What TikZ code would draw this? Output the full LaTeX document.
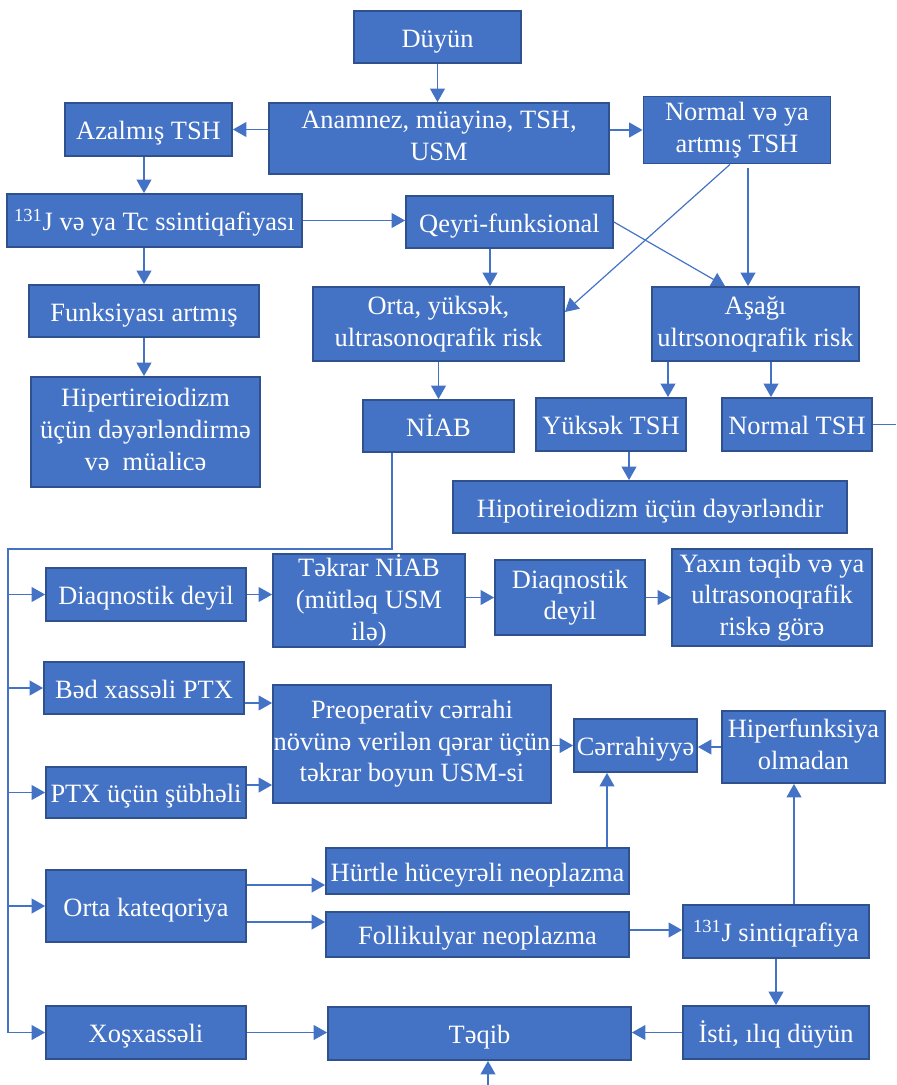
\documentclass[tikz,border=0pt]{standalone}
\usepackage{fontspec}
\setmainfont{Liberation Serif}
\usetikzlibrary{arrows.meta,calc}
\definecolor{boxblue}{HTML}{4472C4}
\definecolor{bdr}{HTML}{2F528F}
\definecolor{lnblue}{HTML}{4472C4}
\tikzset{
  box/.style={draw=bdr, fill=boxblue, text=white, line width=1.3pt, align=center, inner sep=0pt,
    font=\fontsize{18.8}{22.5}\selectfont,
    execute at begin node={\rule{0pt}{18.5pt}}, execute at end node={\rule[-4pt]{0pt}{0pt}}},
  sz/.style 2 args={minimum width=#1*0.025cm, minimum height=#2*0.025cm},
  ln/.style={draw=lnblue, line width=0.85pt},
  arr/.style={ln, -{Triangle[length=9.5pt,width=10.5pt]}}
}
\begin{document}
\begin{tikzpicture}[x=0.025cm,y=-0.025cm]
    \useasboundingbox (0,0) rectangle (896,1085);

    \node[box, sz={167}{52}] (duyun) at (437.5,37) {Düyün};
    \node[box, sz={340}{71}] (anam) at (439,138.5) {Anamnez, müayinə, TSH,\\USM};
    \node[box, sz={167}{53}] (azal) at (148.5,129.5) {Azalmış TSH};
    \node[box, sz={187}{67}] (normart) at (737,130) {Normal və ya\\artmış TSH};
    \node[box, sz={295}{53}] (sint) at (154.5,220.5) {\textsuperscript{131}J və ya Tc ssintiqafiyası};
    \node[box, sz={207}{52}] (qeyri) at (509.5,222) {Qeyri-funksional};
    \node[box, sz={230}{52}] (funk) at (144,311) {Funksiyası artmış};
    \node[box, sz={251}{74}] (ortarisk) at (438.5,324) {Orta, yüksək,\\ultrasonoqrafik risk};
    \node[box, sz={207}{74}] (asagi) at (755.5,324) {Aşağı\\ultrsonoqrafik risk};
    \node[box, sz={229}{110}] (hiper) at (145.5,432) {Hipertireiodizm\\üçün dəyərləndirmə\\və~ müalicə};
    \node[box, sz={151}{52}] (niab) at (438.5,426) {NİAB};
    \node[box, sz={150}{53}] (yuktsh) at (611,424.5) {Yüksək TSH};
    \node[box, sz={150}{53}] (normtsh) at (797,424.5) {Normal TSH};
    \node[box, sz={394}{52}] (hipo) at (650,507) {Hipotireiodizm üçün dəyərləndir};

    \node[box, sz={200}{53}] (diag) at (146,594.5) {Diaqnostik deyil};
    \node[box, sz={192}{93}] (tekrar) at (369,600.5) {Təkrar NİAB\\(mütləq USM\\ilə)};
    \node[box, sz={150}{75}] (diagb) at (570,597.5) {Diaqnostik\\deyil};
    \node[box, sz={200}{97}] (yaxin) at (772,597.5) {Yaxın təqib və ya\\ultrasonoqrafik\\riskə görə};
    \node[box, sz={200}{52}] (bed) at (144,688) {Bəd xassəli PTX};
    \node[box, sz={278}{118}] (preop) at (412,744) {Preoperativ cərrahi\\növünə verilən qərar üçün\\təkrar boyun USM-si};
    \node[box, sz={200}{51}] (ptx) at (146,792.5) {PTX üçün şübhəli};
    \node[box, sz={123}{53}] (cerr) at (635.5,745.5) {Cərrahiyyə};
    \node[box, sz={163}{72}] (hiperf) at (803.5,747) {Hiperfunksiya\\olmadan};
    \node[box, sz={303}{46}] (hurtle) at (477.5,871) {Hürtle hüceyrəli neoplazma};
    \node[box, sz={200}{72}] (ortakat) at (146,906) {Orta kateqoriya};
    \node[box, sz={303}{45}] (foll) at (477.5,934.5) {Follikulyar neoplazma};
    \node[box, sz={186}{53}] (jsint) at (776,931.5) {\textsuperscript{131}J sintiqrafiya};
    \node[box, sz={200}{53}] (xos) at (146,1032.5) {Xoşxassəli};
    \node[box, sz={303}{53}] (teqib) at (479.5,1033.5) {Təqib};
    \node[box, sz={186}{53}] (isti) at (776,1032.5) {İsti, ılıq düyün};

    \coordinate (redge) at (896,424.5);
    \coordinate (bot) at (488,1085);
    \coordinate (trunk) at (8,549);

    \draw[arr] (duyun.south) -- (duyun.south |- anam.north);
    \draw[arr] (anam.west |- azal.east) -- (azal.east);
    \draw[arr] (anam.east |- normart.west) -- (normart.west);
    \draw[arr] (azal.south -| funk.north) -- (sint.north -| funk.north);
    \draw[arr] (sint.south -| funk.north) -- (funk.north);
    \draw[arr] (funk.south) -- (funk.south |- hiper.north);
    \draw[arr] (sint.east) -- (sint.east -| qeyri.west);
    \draw[arr] (490,0 |- qeyri.south) -- (490,0 |- ortarisk.north);
    \draw[arr] (qeyri.east) -- (725,0 |- asagi.north);
    \draw[arr] (730,0 |- normart.south) -- (ortarisk.east |- 0,312);
    \draw[arr] (748,168) -- (748,0 |- asagi.north);
    \draw[arr] (ortarisk.south) -- (niab.north);
    \draw[arr] (668,0 |- asagi.south) -- (668,0 |- yuktsh.north);
    \draw[arr] (771,0 |- asagi.south) -- (771,0 |- normtsh.north);
    \draw[ln] (normtsh.east) -- (redge);
    \draw[arr] (629,0 |- yuktsh.south) -- (629,0 |- hipo.north);

    \draw[ln] (392,0 |- niab.south) |- (trunk) -- (trunk |- xos.west);
    \foreach \b in {diag,bed,ptx,ortakat,xos}
        \draw[arr] (trunk |- \b.west) -- (\b.west);

    \draw[arr] (diag.east) -- (diag.east -| tekrar.west);
    \draw[arr] (tekrar.east |- diagb.west) -- (diagb.west);
    \draw[arr] (diagb.east) -- (yaxin.west);
    \draw[arr] (bed.east |- 0,703) -- (preop.west |- 0,703);
    \draw[arr] (ptx.east |- 0,785) -- (preop.west |- 0,785);
    \draw[arr] (preop.east |- cerr.west) -- (cerr.west);
    \draw[arr] (hiperf.west) -- (cerr.east |- hiperf.west);
    \draw[arr] (607,0 |- hurtle.north) -- (607,0 |- cerr.south);
    \draw[arr] (ortakat.east |- 0,885) -- (hurtle.west |- 0,885);
    \draw[arr] (ortakat.east |- 0,922) -- (foll.west |- 0,922);
    \draw[arr] (foll.east |- 0,930) -- (jsint.west |- 0,930);
    \draw[arr] (794,0 |- jsint.north) -- (794,0 |- hiperf.south);
    \draw[arr] (jsint.south) -- (isti.north);
    \draw[arr] (isti.west) -- (isti.west -| teqib.east);
    \draw[arr] (xos.east) -- (xos.east -| teqib.west);
    \draw[arr] (bot) -- (bot |- teqib.south);
\end{tikzpicture}
\end{document}
